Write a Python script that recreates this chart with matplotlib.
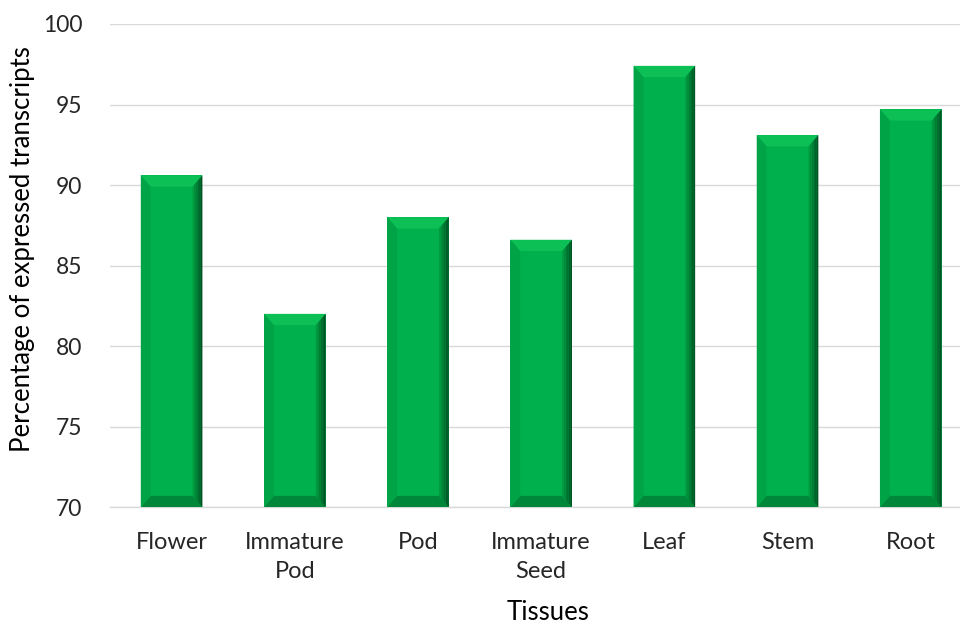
import matplotlib
matplotlib.use("Agg")
import matplotlib.pyplot as plt
from matplotlib.patches import Polygon
import numpy as np

# Data
tissues = ["Flower", "Immature\nPod", "Pod", "Immature\nSeed", "Leaf", "Stem", "Root"]
expressed_pct = [90.6, 82.0, 88.0, 86.6, 97.4, 93.1, 94.7]
y_ticks = [70, 75, 80, 85, 90, 95, 100]

plt.rcParams["font.family"] = ["Lato", "DejaVu Sans"]

fig = plt.figure(figsize=(9.6, 6.23), dpi=100)
ax = fig.add_axes([0.1146, 0.186, 0.8854, 0.7755])

x = np.arange(len(tissues))
width = 0.5
base = 70

face = "#00B04C"
bars = ax.bar(x, [v - base for v in expressed_pct], bottom=base, width=width,
              color=face, edgecolor="none", zorder=2)

# Bevel sizes in data units (x: category units, y: percentage units)
bx = 0.08
by = 0.7

for xi, val in zip(x, expressed_pct):
    l, r = xi - width / 2, xi + width / 2
    t, b = val, base
    # top bevel
    ax.add_patch(Polygon([(l, t), (r, t), (r - bx, t - by), (l + bx, t - by)],
                         closed=True, color="#0CC056", lw=0, zorder=3))
    # bottom bevel
    ax.add_patch(Polygon([(l, b), (r, b), (r - bx, b + by), (l + bx, b + by)],
                         closed=True, color="#00873A", lw=0, zorder=3))
    # left bevel
    ax.add_patch(Polygon([(l, t), (l + bx, t - by), (l + bx, b + by), (l, b)],
                         closed=True, color="#00A346", lw=0, zorder=3))
    # right bevel with a shaded gradient toward the outer edge
    cols = ["#009A40", "#008C3A", "#007D34", "#006E2E", "#006029", "#005424"]
    steps = len(cols)
    for k in range(steps):
        f0 = k / steps
        f1 = (k + 1) / steps
        xa = r - bx + bx * f0
        xb = r - bx + bx * f1
        ya_t = t - by + by * f0
        yb_t = t - by + by * f1
        ya_b = b + by - by * f0
        yb_b = b + by - by * f1
        ax.add_patch(Polygon([(xa, ya_t), (xb, yb_t), (xb, yb_b), (xa, ya_b)],
                             closed=True, color=cols[k], lw=0, zorder=3))

ax.set_xlim(-0.5, 6.4)
ax.set_ylim(70, 100)
ax.set_yticks(y_ticks)
ax.set_xticks(x)
ax.set_xticklabels(tissues, fontsize=17, color="#262626", linespacing=1.45)
ax.tick_params(axis="y", labelsize=16.5, labelcolor="#262626", length=0, pad=20)
ax.tick_params(axis="x", length=0, pad=18)

ax.grid(axis="y", color="#D9D9D9", lw=1.0, zorder=0)
ax.set_axisbelow(True)
for side in ["top", "right", "left"]:
    ax.spines[side].set_visible(False)
ax.spines["bottom"].set_color("#D9D9D9")
ax.spines["bottom"].set_linewidth(1.0)

ax.set_ylabel("Percentage of expressed transcripts", fontsize=18.5, color="#000000")
ax.yaxis.set_label_coords(-0.088, 0.535)
ax.set_xlabel("Tissues", fontsize=18.5, color="#000000")
ax.xaxis.set_label_coords(0.515, -0.192)

fig.savefig("out.png", dpi=100, facecolor="white")
